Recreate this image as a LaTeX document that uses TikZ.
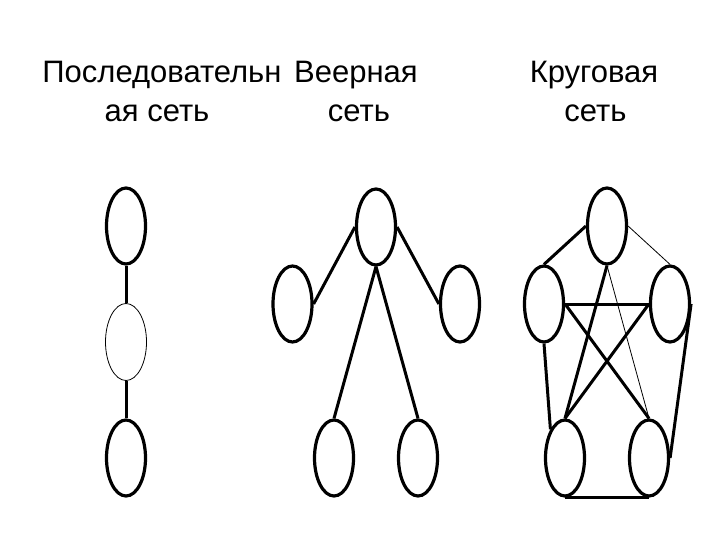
\documentclass[tikz,border=0pt]{standalone}
\usepackage{fontspec}
\setmainfont{Liberation Sans}
\usetikzlibrary{shapes.geometric}
\begin{document}
\begin{tikzpicture}[x=1pt,y=-1pt,
  nd/.style={ellipse,draw,line width=3.2pt,fill=white,minimum width=39pt,minimum height=76pt,inner sep=0pt},
  ndthin/.style={ellipse,draw,line width=0.8pt,fill=white,minimum width=41pt,minimum height=77pt,inner sep=0pt},
  lnk/.style={line width=3pt},
  lnkthin/.style={line width=0.8pt},
  ttl/.style={anchor=base,inner sep=0pt,font=\fontsize{31}{37}\selectfont}]
\useasboundingbox[fill=white] (0,0) rectangle (720,540);
% titles
\node[ttl] (t1a) at (162,83) {Последовательн};
\node[ttl] (t1b) at (157,121.5) {ая сеть};
\node[ttl] (t2a) at (356,83) {Веерная};
\node[ttl] (t2b) at (359,121.5) {сеть};
\node[ttl] (t3a) at (594,83) {Круговая};
\node[ttl] (t3b) at (595.5,121.5) {сеть};
% sequential
\node[nd] (st) at (126,226) {};
\node[ndthin] (sm) at (126,342) {};
\node[nd] (sb) at (126,458) {};
\draw[lnk] (st.south) -- (sm.north);
\draw[lnk] (sm.south) -- (sb.north);
% fan
\node[nd] (ft) at (376,227) {};
\node[nd] (fl) at (292.5,304) {};
\node[nd] (fr) at (460,304) {};
\node[nd] (fbl) at (334,458) {};
\node[nd] (fbr) at (418,458) {};
\draw[lnk] (ft.west) -- (fl.east);
\draw[lnk] (ft.east) -- (fr.west);
\draw[lnk] (ft.south) -- (fbl.north);
\draw[lnk] (ft.south) -- (fbr.north);
% circular
\node[nd] (ct) at (607,226) {};
\node[nd] (cl) at (544,304) {};
\node[nd] (cr) at (670,304) {};
\node[nd] (cbl) at (565,458) {};
\node[nd] (cbr) at (649,458) {};
\draw[lnk] (ct.west) -- (cl.north);
\draw[lnkthin] (ct.east) -- (cr.north);
\draw[lnk] (cl.east) -- (cr.west);
\draw[lnk] (cl.east) -- (cbr.north);
\draw[lnk] (cr.west) -- (cbl.north);
\draw[lnk] (ct.south) -- (cbl.north);
\draw[lnkthin] (ct.south) -- (cbr.north);
\draw[lnk] (cl.south) -- (cbl.117);
\draw[lnk] (cr.east) -- (cbr.east);
\draw[lnk] (cbl.south) -- (cbr.south);
\end{tikzpicture}
\end{document}
